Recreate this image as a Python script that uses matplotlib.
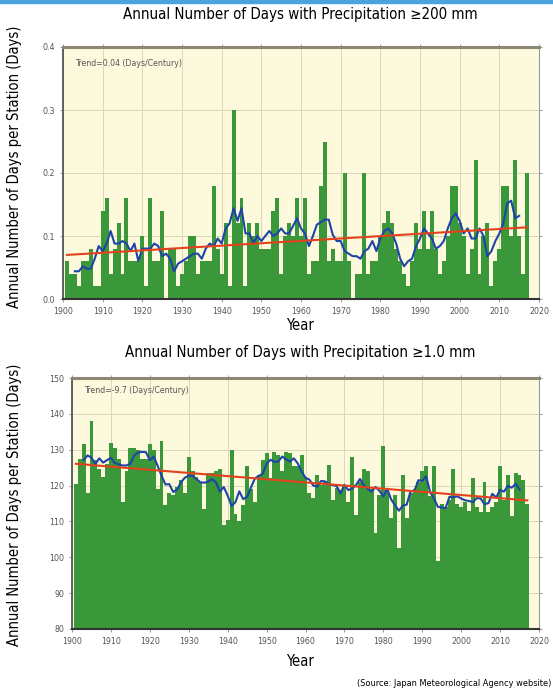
import numpy as np
import pandas as pd
import matplotlib
matplotlib.use("Agg")
import matplotlib.pyplot as plt
from matplotlib.patches import Rectangle

# Condensed DejaVu face is close to the narrow font of the original
plt.rcParams['font.family'] = ['DejaVu Sans']
plt.rcParams['font.stretch'] = 'condensed'

# Years covered by both charts
years = np.arange(1901, 2018)

# Days with precipitation >= 200 mm (per station)
days_200mm = [
    0.06, 0.04, 0.04, 0.02, 0.06, 0.06, 0.08, 0.02, 0.02, 0.14,
    0.16, 0.04, 0.08, 0.12, 0.04, 0.16, 0.06, 0.06, 0.06, 0.10,
    0.02, 0.16, 0.06, 0.06, 0.14, 0.00, 0.08, 0.08, 0.02, 0.04,
    0.06, 0.10, 0.10, 0.04, 0.06, 0.06, 0.06, 0.18, 0.08, 0.04,
    0.12, 0.02, 0.30, 0.12, 0.16, 0.02, 0.12, 0.10, 0.12, 0.08,
    0.08, 0.08, 0.14, 0.16, 0.04, 0.10, 0.12, 0.10, 0.16, 0.10,
    0.16, 0.04, 0.06, 0.06, 0.18, 0.25, 0.06, 0.08, 0.06, 0.06,
    0.20, 0.06, 0.00, 0.04, 0.04, 0.20, 0.04, 0.06, 0.06, 0.10,
    0.12, 0.14, 0.12, 0.08, 0.06, 0.04, 0.02, 0.06, 0.12, 0.08,
    0.14, 0.08, 0.14, 0.08, 0.04, 0.06, 0.10, 0.18, 0.18, 0.12,
    0.10, 0.04, 0.08, 0.22, 0.04, 0.10, 0.12, 0.02, 0.06, 0.08,
    0.18, 0.18, 0.10, 0.22, 0.10, 0.04, 0.20,
]

# Days with precipitation >= 1.0 mm (per station)
days_1mm = [
    120.5, 127.5, 131.5, 118.0, 138.0, 127.0, 124.5, 122.5, 126.0, 132.0,
    130.5, 127.5, 115.5, 124.0, 130.5, 130.5, 130.0, 127.5, 127.5, 131.5,
    130.0, 119.0, 132.5, 114.5, 118.0, 117.5, 119.5, 121.5, 118.0, 128.0,
    124.0, 122.5, 121.0, 113.5, 123.5, 123.5, 124.0, 124.5, 109.0, 110.5,
    130.0, 112.0, 110.0, 114.5, 125.5, 119.0, 115.5, 123.0, 127.0, 129.0,
    122.0, 129.5, 128.5, 124.0, 129.5, 129.0, 125.5, 125.5, 128.5, 122.5,
    117.8, 116.5, 123.0, 120.2, 121.0, 125.7, 116.0, 119.2, 118.7, 119.7,
    115.5, 128.0, 111.8, 121.0, 124.5, 124.0, 119.0, 106.7, 117.4, 131.0,
    118.7, 111.0, 117.4, 102.5, 123.0, 111.0, 118.0, 119.0, 121.0, 124.0,
    125.5, 117.0, 125.5, 99.0, 115.0, 114.0, 116.0, 124.5, 115.0, 114.0,
    115.5, 113.0, 122.0, 114.0, 112.5, 121.0, 112.5, 114.0, 115.5, 125.5,
    116.0, 123.0, 111.5, 123.5, 123.0, 121.5, 115.0,
]

trend_200 = "Trend=0.04 (Days/Century)"
trend_1 = "Trend=-9.7 (Days/Century)"
title_200 = "Annual Number of Days with Precipitation \u2265200 mm"
title_1 = "Annual Number of Days with Precipitation \u22651.0 mm"
ylabel = "Annual Number of Days per Station (Days)"

bg = "#fcf9dc"
grid_c = "#dcd8b8"
bar_c = "#3a973a"
ma_c = "#1f44a8"
trend_c = "#e4421c"

fig = plt.figure(figsize=(5.53, 6.95), dpi=100)
fig.patches.append(Rectangle((0, 0.995), 1, 0.005, transform=fig.transFigure,
                             color="#4aa3df", zorder=0))


def draw(ax, vals, ylim, yticks, ytick_labels, trend_txt, ty):
    vals = np.array(vals)
    ax.set_facecolor(bg)
    ax.bar(years, vals, width=1.0, color=bar_c, linewidth=0, zorder=2)
    # 5-year running mean and linear trend
    ma = pd.Series(vals).rolling(5, center=True).mean()
    ax.plot(years, ma, color=ma_c, lw=1.5, zorder=3)
    coef = np.polyfit(years, vals, 1)
    ax.plot(years, np.polyval(coef, years), color=trend_c, lw=1.5, zorder=4)
    ax.set_xlim(1900, 2020)
    ax.set_ylim(*ylim)
    ax.set_xticks(range(1900, 2021, 10))
    ax.set_yticks(yticks)
    ax.set_yticklabels(ytick_labels)
    ax.grid(color=grid_c, lw=0.7, zorder=0)
    ax.set_axisbelow(True)
    ax.tick_params(direction="out", length=2.5, width=0.6, color="#888",
                   labelsize=6.3, labelcolor="#555", top=True, right=True,
                   pad=3)
    ax.spines["top"].set_linewidth(2.2)
    ax.spines["top"].set_color("#8c8873")
    ax.spines["bottom"].set_linewidth(1.5)
    ax.spines["bottom"].set_color("#333333")
    ax.spines["left"].set_linewidth(1.3)
    ax.spines["left"].set_color("#555555")
    ax.spines["right"].set_linewidth(0.8)
    ax.spines["right"].set_color("#999999")
    ax.text(1903, ty, trend_txt, fontsize=6.2, color="#555",
            va="center", zorder=5)


# Top chart
ax1 = fig.add_axes([63 / 553, 1 - 299 / 695, 476 / 553, 252 / 695])
draw(ax1, days_200mm, (0, 0.4), [0, 0.1, 0.2, 0.3, 0.4],
     ["0.0", "0.1", "0.2", "0.3", "0.4"], trend_200, 0.374)

# Bottom chart
ax2 = fig.add_axes([72 / 553, 1 - 629 / 695, 467 / 553, 251 / 695])
draw(ax2, days_1mm, (80, 150), list(range(80, 151, 10)),
     [str(v) for v in range(80, 151, 10)], trend_1, 146.5)

fig.text(0.543, 1 - 14 / 695, title_200, ha="center", va="center", fontsize=10.8)
fig.text(0.543, 1 - 352 / 695, title_1, ha="center", va="center", fontsize=10.8)
fig.text(0.543, 1 - 326 / 695, "Year", ha="center", va="center", fontsize=10.5)
fig.text(0.543, 1 - 661 / 695, "Year", ha="center", va="center", fontsize=10.5)
fig.text(0.027, 1 - 167 / 695, ylabel, rotation=90, ha="center", va="center", fontsize=10.5)
fig.text(0.027, 1 - 505 / 695, ylabel, rotation=90, ha="center", va="center", fontsize=10.5)
fig.text(0.997, 1 - 684 / 695, "(Source: Japan Meteorological Agency website)",
         ha="right", va="center", fontsize=6.6)

fig.savefig("out.png", dpi=100)
